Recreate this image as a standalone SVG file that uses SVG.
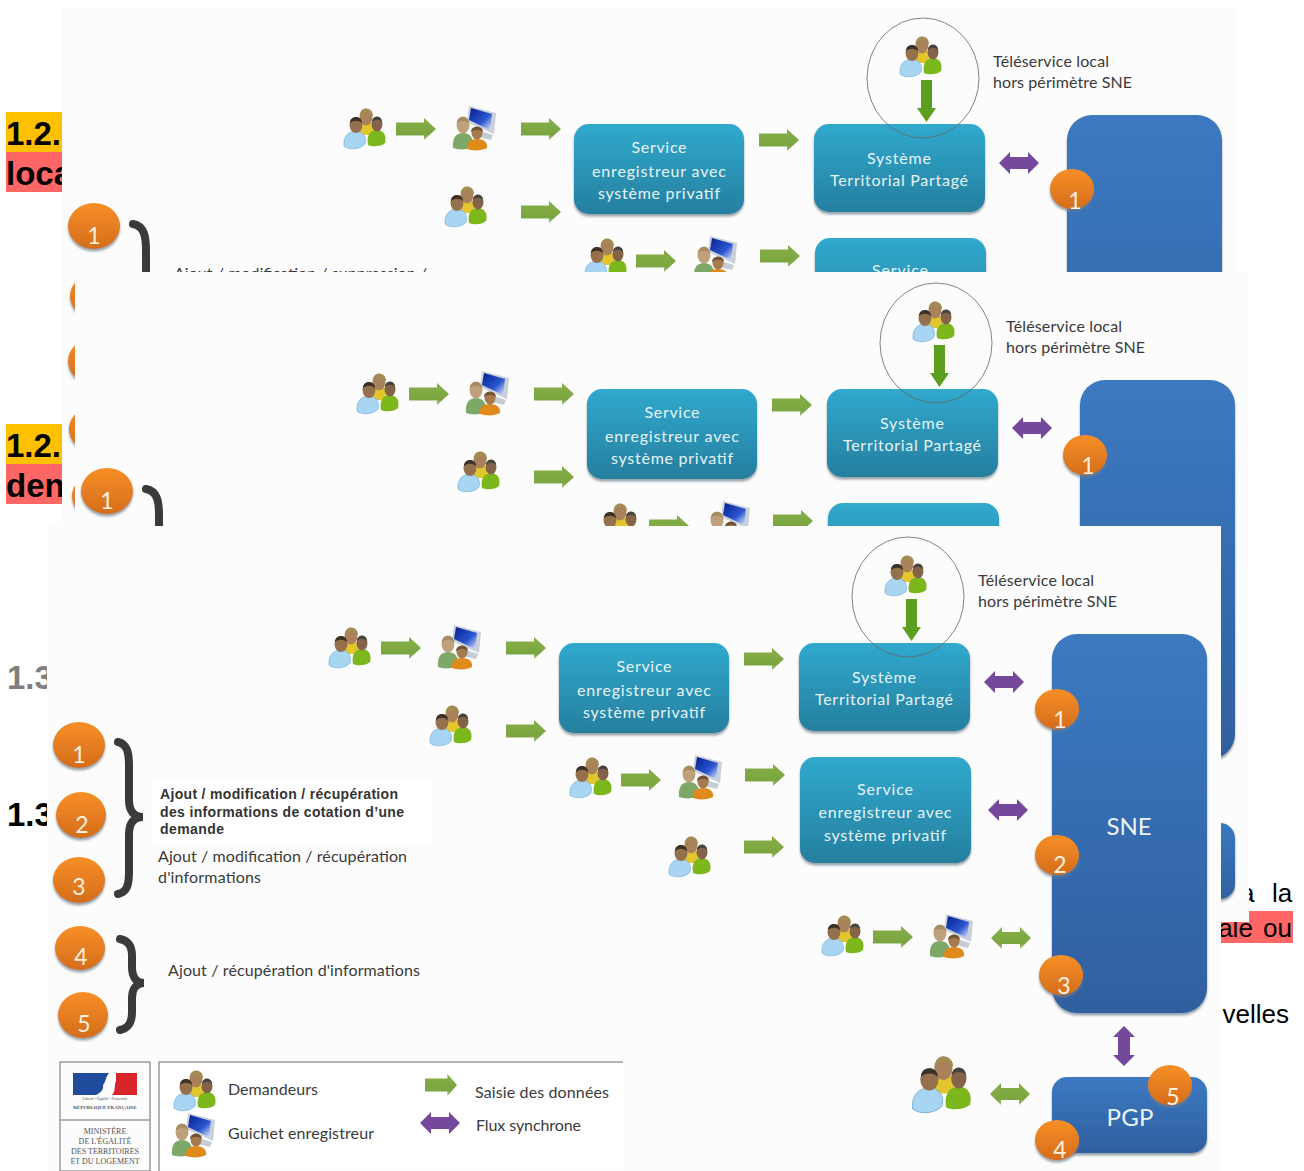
<svg xmlns="http://www.w3.org/2000/svg" width="1304" height="1171" viewBox="0 0 1304 1171">
<style>
.bg{fill:#fcfcfc}
.h{font-family:"Liberation Sans",Arial,sans-serif;font-weight:700;font-size:33px;fill:#000}
.b{font-family:"Liberation Sans",Arial,sans-serif;font-size:26px;fill:#000}
.l{font-family:Lato,"Open Sans",sans-serif;font-size:16px;fill:#3a3a3a}
.w{font-family:Lato,"Open Sans",sans-serif;font-size:16px;fill:#e6f3f7;text-anchor:middle}
.big{font-family:Lato,"Open Sans",sans-serif;font-size:24px;fill:#eef3f9;text-anchor:middle}
.n{font-family:Lato,"Open Sans",sans-serif;font-size:23px;fill:#fff0e0;text-anchor:middle}
.bt{font-family:"Liberation Sans",Arial,sans-serif;font-weight:700;font-size:14px;fill:#333}
.m{font-family:"Liberation Serif","Times New Roman",serif;font-size:8px;fill:#555;text-anchor:middle}
.g{fill:url(#grn)}
.p{fill:#74489a}
.teal{fill:url(#teal);filter:url(#sh)}
.blue{fill:url(#blue);filter:url(#sh)}
.o{fill:url(#or);filter:url(#sh)}
.br{fill:none;stroke:#3a3a3a;stroke-width:8;stroke-linecap:round}
.el{fill:none;stroke:#666;stroke-width:.8}
.lg{fill:none;stroke:#9a9a9a;stroke-width:1.5}
.ic{filter:url(#soft)}
</style>
<defs>
<linearGradient id="teal" x1="0" y1="0" x2="0" y2="1"><stop offset="0" stop-color="#30a9cd"/><stop offset="1" stop-color="#267f9f"/></linearGradient>
<linearGradient id="blue" x1="0" y1="0" x2="0" y2="1"><stop offset="0" stop-color="#3c79c1"/><stop offset="1" stop-color="#2f609f"/></linearGradient>
<linearGradient id="or" x1="0" y1="0" x2="0" y2="1"><stop offset="0" stop-color="#f78f26"/><stop offset="1" stop-color="#d46d1c"/></linearGradient>
<linearGradient id="grn" x1="0" y1="0" x2="0" y2="1"><stop offset="0" stop-color="#86ae48"/><stop offset=".75" stop-color="#7ba63f"/><stop offset="1" stop-color="#a9bd8a"/></linearGradient>
<linearGradient id="scr" x1="0" y1="0" x2="1" y2="1"><stop offset="0" stop-color="#06208f"/><stop offset=".6" stop-color="#2a55d0"/><stop offset="1" stop-color="#e8eeff"/></linearGradient>
<filter id="sh" x="-10%" y="-10%" width="120%" height="125%"><feDropShadow dx="0" dy="2.5" stdDeviation="1.2" flood-color="#6d7d88" flood-opacity=".7"/></filter>
<filter id="soft"><feGaussianBlur stdDeviation=".4"/></filter>
<clipPath id="c1"><rect x="62" y="7" width="1173" height="519"/></clipPath>
<clipPath id="c2"><rect x="75" y="272" width="1174" height="650"/></clipPath>
<path id="ga" d="M-20,-6.500H8V-11L20,0L8,11V6.500H-20Z"/>
<path id="da" d="M-20,0L-9,-11V-6H9V-11L20,0L9,11V6H-9V11Z"/>
<g id="people" class="ic">
<path d="M-7,6C-9,-5-5,-8 1,-8C7,-8 10,-4 8,6Z" fill="#e3c52f"/>
<ellipse cx="1" cy="-12" rx="6.500" ry="8.500" fill="#a9815a"/>
<path d="M-5,-13C-6,-22 8,-23 8,-13C3,-17-1,-17-5,-13Z" fill="#a58a52"/>
<path d="M3,16C1,6 6,1 12,1C18,1 22,6 20,14C16,18 7,18 3,16Z" fill="#7cb81e"/>
<ellipse cx="12" cy="-5" rx="5.500" ry="7.500" fill="#85634a"/>
<path d="M7,-7C7,-14 17,-14 17,-7C14,-10 10,-10 7,-7Z" fill="#45453f"/>
<path d="M-21,17C-22,7-16,2-9,2C-3,2 2,7 0,15C-5,21-17,21-21,17Z" fill="#a8d5f2" stroke="#6ba8d8" stroke-width=".6"/>
<ellipse cx="-9" cy="-4" rx="6.500" ry="8" fill="#95704e"/>
<path d="M-15,-6C-15,-14-3,-14-3,-6C-7,-9-11,-9-15,-6Z" fill="#3e3226"/>
</g>
<g id="guichet" class="ic">
<path d="M6,3L19,7L17,12L5,9Z" fill="#c6ccd4"/>
<polygon points="-5,-22 22,-15 20,6 -7,-6" fill="#c9d0da"/>
<polygon points="-3,-20 18,-14 16,2 -5,-8" fill="url(#scr)"/>
<path d="M-21,20C-22,10-18,5-11,5C-4,5 0,10-1,19C-7,22-16,22-21,20Z" fill="#7ea868"/>
<ellipse cx="-11" cy="-3" rx="6.500" ry="8.500" fill="#bfa07a"/>
<path d="M-17,-5C-17,-13-5,-13-5,-5C-9,-8-13,-8-17,-5Z" fill="#a58c62"/>
<path d="M-7,21C-8,14-3,11 3,11C9,11 14,14 13,20C8,23-2,23-7,21Z" fill="#e08a1e"/>
<ellipse cx="3" cy="5" rx="5.500" ry="6.500" fill="#a57a50"/>
<path d="M-3,4C-3,-3 9,-3 9,4C5,1 1,1-3,4Z" fill="#6e5236"/>
</g>
</defs>

<g id="page-text">
<rect x="6" y="112" width="56" height="40" fill="#ffc000"/>
<rect x="6" y="152" width="56" height="40" fill="#ff6666"/>
<text class="h" x="6" y="145">1.2.</text>
<text class="h" x="6" y="185">loca</text>
<rect x="6" y="424" width="56" height="40" fill="#ffc000"/>
<rect x="6" y="464" width="56" height="40" fill="#ff6666"/>
<text class="h" x="6" y="457">1.2.</text>
<text class="h" x="6" y="497">den</text>
<text class="h" x="7" y="689" style="fill:#7f7f7f">1.3</text>
<text class="h" x="7" y="826">1.3</text>
<text class="b" x="1240" y="902">a<tspan x="1272">la</tspan></text>
<rect x="1221" y="911" width="72" height="32" fill="#ff6666"/>
<text class="b" x="1292" y="937" text-anchor="end" style="word-spacing:3px">ale ou</text>
<text class="b" x="1289" y="1023" text-anchor="end">velles</text>
</g>

<g id="panel-1" clip-path="url(#c1)">
<rect class="bg" x="62" y="7" width="1173" height="519"/>
<g id="p1-connectors">
<use href="#ga" class="g" x="416" y="129"/><use href="#ga" class="g" x="541" y="129"/><use href="#ga" class="g" x="541" y="212"/><use href="#ga" class="g" x="779" y="140"/><use href="#ga" class="g" x="656" y="261"/><use href="#ga" class="g" x="780" y="256"/>
<use href="#da" class="p" x="1019" y="163"/>
<path d="M921,80H932V108H936L926.500,122L917,108H921Z" fill="#5c9e1e"/>
</g>
<g id="p1-users">
<use href="#people" x="365" y="129"/><use href="#guichet" x="474" y="128"/><use href="#people" x="466" y="207"/><use href="#people" x="606" y="259"/><use href="#guichet" x="715" y="258"/><use href="#people" x="921" y="57"/>
</g>
<g id="p1-service"><rect class="teal" x="574" y="124" width="170" height="90" rx="15"/>
<text class="w" x="659" y="153" textLength="55">Service</text><text class="w" x="659" y="177" textLength="134">enregistreur avec</text><text class="w" x="659" y="199" textLength="122">système privatif</text></g>
<g id="p1-stp"><rect class="teal" x="814" y="124" width="171" height="88" rx="15"/>
<text class="w" x="899" y="164" textLength="64">Système</text><text class="w" x="899" y="186" textLength="138">Territorial Partagé</text></g>
<g id="p1-service2"><rect class="teal" x="815" y="238" width="171" height="106" rx="15"/><text class="w" x="900" y="276" textLength="56">Service</text></g>
<g id="p1-sne"><rect class="blue" x="1067" y="115" width="155" height="379" rx="25"/></g>
<ellipse class="el" cx="923" cy="78" rx="56" ry="60"/>
<text class="l" x="993" y="67" textLength="116">Téléservice local</text>
<text class="l" x="993" y="88" textLength="139">hors périmètre SNE</text>
<g id="p1-badge-s1"><ellipse class="o" cx="1072" cy="189" rx="22" ry="20"/><text class="n" x="1075" y="209">1</text></g>
<g id="p1-badge-1"><ellipse class="o" cx="94" cy="226" rx="26" ry="23"/><text class="n" x="94" y="244">1</text></g>
<ellipse class="o" cx="96" cy="296" rx="26" ry="23"/><ellipse class="o" cx="94" cy="361" rx="26" ry="23"/><ellipse class="o" cx="95" cy="429" rx="26" ry="23"/><ellipse class="o" cx="98" cy="496" rx="26" ry="23"/>
<path class="br" d="M133,224C144,226 146,236 146,250V300"/>
<text class="l" x="174" y="279" textLength="253">Ajout / modification / suppression /</text>
</g>

<g id="panel-2" clip-path="url(#c2)">
<rect class="bg" x="75" y="272" width="1174" height="650"/>
<g id="p2-connectors">
<use href="#ga" class="g" x="429" y="394"/><use href="#ga" class="g" x="554" y="394"/><use href="#ga" class="g" x="554" y="477"/><use href="#ga" class="g" x="792" y="405"/><use href="#ga" class="g" x="669" y="526"/><use href="#ga" class="g" x="793" y="521"/>
<use href="#da" class="p" x="1032" y="428"/>
<path d="M934,345H945V373H949L939.500,387L930,373H934Z" fill="#5c9e1e"/>
</g>
<g id="p2-users">
<use href="#people" x="378" y="394"/><use href="#guichet" x="487" y="393"/><use href="#people" x="479" y="472"/><use href="#people" x="619" y="524"/><use href="#guichet" x="728" y="523"/><use href="#people" x="934" y="322"/>
</g>
<g id="p2-service"><rect class="teal" x="587" y="389" width="170" height="90" rx="15"/>
<text class="w" x="672" y="418" textLength="55">Service</text><text class="w" x="672" y="442" textLength="134">enregistreur avec</text><text class="w" x="672" y="464" textLength="122">système privatif</text></g>
<g id="p2-stp"><rect class="teal" x="827" y="389" width="171" height="88" rx="15"/>
<text class="w" x="912" y="429" textLength="64">Système</text><text class="w" x="912" y="451" textLength="138">Territorial Partagé</text></g>
<g id="p2-service2"><rect class="teal" x="828" y="503" width="171" height="106" rx="15"/></g>
<g id="p2-sne"><rect class="blue" x="1080" y="380" width="155" height="379" rx="25"/></g>
<g id="p2-pgp"><rect class="blue" x="1080" y="823" width="155" height="76" rx="15"/></g>
<ellipse class="el" cx="936" cy="343" rx="56" ry="60"/>
<text class="l" x="1006" y="332" textLength="116">Téléservice local</text>
<text class="l" x="1006" y="353" textLength="139">hors périmètre SNE</text>
<g id="p2-badge-s1"><ellipse class="o" cx="1085" cy="455" rx="22" ry="20"/><text class="n" x="1088" y="474">1</text></g>
<g id="p2-badge-1"><ellipse class="o" cx="107" cy="491" rx="26" ry="23"/><text class="n" x="107" y="509">1</text></g>
<path class="br" d="M146,489C157,491 159,501 159,515V560"/>
</g>

<g id="panel-3">
<rect class="bg" x="47" y="526" width="1174" height="645"/>
<g id="connectors">
<use href="#ga" class="g" x="401" y="648"/><use href="#ga" class="g" x="526" y="648"/><use href="#ga" class="g" x="526" y="731"/><use href="#ga" class="g" x="764" y="659"/><use href="#ga" class="g" x="641" y="780"/><use href="#ga" class="g" x="765" y="775"/><use href="#ga" class="g" x="764" y="847"/><use href="#ga" class="g" x="893" y="937"/>
<use href="#da" class="g" x="1011" y="938"/><use href="#da" class="g" x="1010" y="1094"/>
<use href="#da" class="p" x="1004" y="682"/><use href="#da" class="p" x="1008" y="810"/>
<use href="#da" class="p" transform="translate(1124,1046) rotate(90)"/>
<path d="M906,599H917V627H921L911.500,641L902,627H906Z" fill="#5c9e1e"/>
</g>
<g id="users">
<use href="#people" x="350" y="648"/><use href="#guichet" x="459" y="647"/><use href="#people" x="451" y="726"/><use href="#people" x="591" y="778"/><use href="#guichet" x="700" y="777"/><use href="#people" x="690" y="857"/><use href="#people" x="843" y="936"/><use href="#guichet" x="951" y="936"/><use href="#people" x="906" y="576"/>
<use href="#people" transform="translate(942,1085) scale(1.4)"/>
</g>
<g id="service-1"><rect class="teal" x="559" y="643" width="170" height="90" rx="15"/>
<text class="w" x="644" y="672" textLength="55">Service</text><text class="w" x="644" y="696" textLength="134">enregistreur avec</text><text class="w" x="644" y="718" textLength="122">système privatif</text></g>
<g id="stp"><rect class="teal" x="799" y="643" width="171" height="88" rx="15"/>
<text class="w" x="884" y="683" textLength="64">Système</text><text class="w" x="884" y="705" textLength="138">Territorial Partagé</text></g>
<g id="service-2"><rect class="teal" x="800" y="757" width="171" height="106" rx="15"/>
<text class="w" x="885" y="795" textLength="56">Service</text><text class="w" x="885" y="818" textLength="133">enregistreur avec</text><text class="w" x="885" y="841" textLength="122">système privatif</text></g>
<g id="sne"><rect class="blue" x="1052" y="634" width="155" height="379" rx="25"/><text class="big" x="1129" y="835" textLength="45">SNE</text></g>
<g id="pgp"><rect class="blue" x="1052" y="1077" width="155" height="76" rx="15"/><text class="big" x="1130" y="1126" textLength="47">PGP</text></g>
<ellipse class="el" cx="908" cy="597" rx="56" ry="60"/>
<text class="l" x="978" y="586" textLength="116">Téléservice local</text>
<text class="l" x="978" y="607" textLength="139">hors périmètre SNE</text>
<g id="badge-s1"><ellipse class="o" cx="1057" cy="709" rx="22" ry="20"/><text class="n" x="1060" y="728">1</text></g>
<g id="badge-s2"><ellipse class="o" cx="1057" cy="855" rx="22" ry="20"/><text class="n" x="1060" y="873">2</text></g>
<g id="badge-s3"><ellipse class="o" cx="1061" cy="975" rx="22" ry="20"/><text class="n" x="1064" y="994">3</text></g>
<g id="badge-p4"><ellipse class="o" cx="1057" cy="1140" rx="22" ry="20"/><text class="n" x="1060" y="1158">4</text></g>
<g id="badge-p5"><ellipse class="o" cx="1170" cy="1085" rx="22" ry="20"/><text class="n" x="1173" y="1105">5</text></g>
<g id="legend-badges">
<g id="badge-1"><ellipse class="o" cx="79" cy="745" rx="26" ry="23"/><text class="n" x="79" y="763">1</text></g>
<g id="badge-2"><ellipse class="o" cx="81" cy="815" rx="25" ry="23"/><text class="n" x="82" y="833">2</text></g>
<g id="badge-3"><ellipse class="o" cx="79" cy="880" rx="26" ry="23"/><text class="n" x="79" y="895">3</text></g>
<g id="badge-4"><ellipse class="o" cx="80" cy="948" rx="25" ry="22"/><text class="n" x="81" y="965">4</text></g>
<g id="badge-5"><ellipse class="o" cx="83" cy="1015" rx="25" ry="23"/><text class="n" x="84" y="1032">5</text></g>
</g>
<path class="br" d="M118,742C127,744 129,752 129,766V800C129,811 134,817 143,817C134,817 129,823 129,834V872C129,885 127,892 118,894"/>
<path class="br" d="M120,939C129,941 132,947 132,956V967C132,978 137,983 144,983C137,983 132,988 132,998V1012C132,1022 129,1028 120,1030"/>
<g id="note"><rect x="152" y="779" width="280" height="63" fill="#fff"/>
<text class="bt" x="160" y="799" textLength="238">Ajout / modification / récupération</text>
<text class="bt" x="160" y="817" textLength="244">des informations de cotation d’une</text>
<text class="bt" x="160" y="834" textLength="64">demande</text></g>
<text class="l" x="158" y="862" textLength="249">Ajout / modification / récupération</text>
<text class="l" x="158" y="883" textLength="103">d'informations</text>
<text class="l" x="168" y="976" textLength="252">Ajout / récupération d'informations</text>
<g id="logo">
<rect x="60" y="1062" width="90" height="109" fill="#fff" class="lg"/>
<path class="lg" d="M60,1120H150"/>
<path d="M73,1073H109C105,1078 106,1082 103,1085C104,1090 100,1093 96,1095H73Z" fill="#1f4b9c"/>
<path d="M116,1073H137V1095H112C116,1091 114,1085 116,1081Z" fill="#d8232a"/>
<text class="m" x="105" y="1100" style="font-size:4px">Liberté • Égalité • Fraternité</text>
<text class="m" x="105" y="1109" style="font-size:5px;font-weight:700">RÉPUBLIQUE FRANÇAISE</text>
<text class="m" x="105" y="1134">MINISTÈRE</text>
<text class="m" x="105" y="1144">DE L'ÉGALITÉ</text>
<text class="m" x="105" y="1154">DES TERRITOIRES</text>
<text class="m" x="105" y="1164">ET DU LOGEMENT</text>
</g>
<g id="legend">
<rect x="159" y="1062" width="464" height="107" fill="#fff"/>
<path class="lg" d="M623,1062H159V1171"/>
<use href="#people" x="195" y="1091"/>
<use href="#guichet" x="193" y="1135"/>
<use href="#ga" class="g" transform="translate(441,1085) scale(.8,1)"/>
<use href="#da" class="p" x="440" y="1123"/>
<text class="l" x="228" y="1095" textLength="90">Demandeurs</text>
<text class="l" x="228" y="1139" textLength="146">Guichet enregistreur</text>
<text class="l" x="475" y="1098" textLength="134">Saisie des données</text>
<text class="l" x="476" y="1131" textLength="105">Flux synchrone</text>
</g>
</g>
</svg>
